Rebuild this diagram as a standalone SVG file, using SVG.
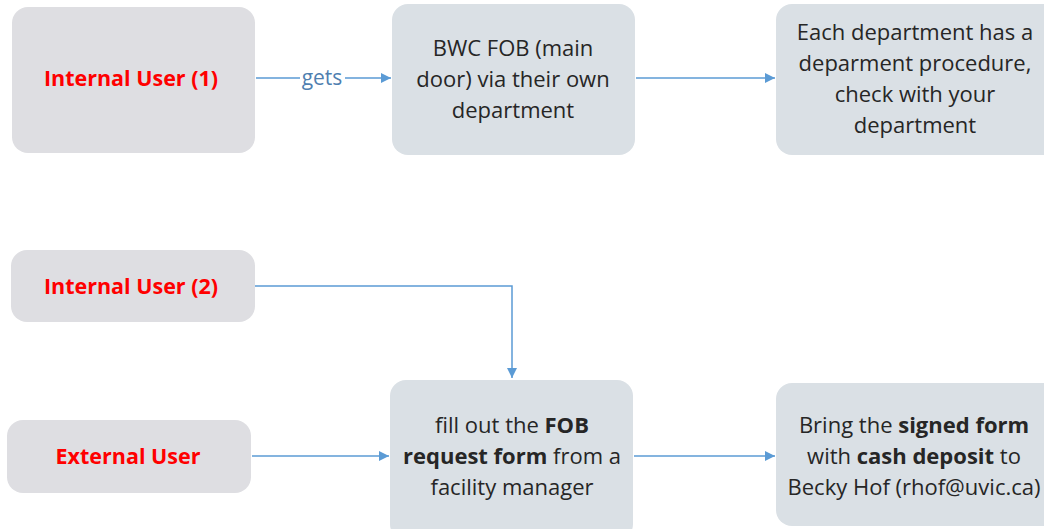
<svg xmlns="http://www.w3.org/2000/svg" width="1044" height="529" viewBox="0 0 1044 529">
<style>
.u{fill:#dedee2}
.p{fill:#dae0e5}
.t{font-family:"Open Sans","Liberation Sans",sans-serif;font-size:22px;fill:#262626;text-anchor:middle}
.r{font-family:"Open Sans","Liberation Sans",sans-serif;font-size:21.5px;font-weight:bold;fill:#ff0000;text-anchor:middle}
.b{font-weight:bold}
.c{fill:none;stroke:#5b9bd5;stroke-width:1.5}
</style>
<defs>
<marker id="ah" viewBox="0 0 10 10" refX="10" refY="5" markerWidth="11" markerHeight="10" markerUnits="userSpaceOnUse" orient="auto">
<path d="M0,0 L10,5 L0,10 z" fill="#5b9bd5"/>
</marker>
</defs>
<rect width="1044" height="529" fill="#ffffff"/>
<g id="connectors">
<path class="c" d="M256,78 H300 M345,78 H391" marker-end="url(#ah)"/>
<text x="322" y="85" font-family="'Open Sans','Liberation Sans',sans-serif" font-size="21" fill="#4f7fb0" text-anchor="middle">gets</text>
<path class="c" d="M636,78 H775" marker-end="url(#ah)"/>
<path class="c" d="M255,286 H512 V378" marker-end="url(#ah)"/>
<path class="c" d="M252,456 H389" marker-end="url(#ah)"/>
<path class="c" d="M634,456 H775" marker-end="url(#ah)"/>
</g>
<g id="internal1">
<rect class="u" x="12" y="7" width="243" height="146" rx="16"/>
<text class="r" x="131" y="86">Internal User (1)</text>
</g>
<g id="bwcfob">
<rect class="p" x="392" y="4" width="243" height="151" rx="16"/>
<text class="t" x="513" y="56">BWC FOB (main</text>
<text class="t" x="513" y="87">door) via their own</text>
<text class="t" x="513" y="118">department</text>
</g>
<g id="department">
<rect class="p" x="776" y="4" width="290" height="151" rx="16"/>
<text class="t" x="915" y="40">Each department has a</text>
<text class="t" x="915" y="71">deparment procedure,</text>
<text class="t" x="915" y="102">check with your</text>
<text class="t" x="915" y="133">department</text>
</g>
<g id="internal2">
<rect class="u" x="11" y="250" width="244" height="72" rx="16"/>
<text class="r" x="131" y="294">Internal User (2)</text>
</g>
<g id="external">
<rect class="u" x="7" y="420" width="244" height="73" rx="16"/>
<text class="r" x="128" y="464">External User</text>
</g>
<g id="fillform">
<rect class="p" x="390" y="380" width="243" height="160" rx="16"/>
<text class="t" x="512" y="433">fill out the <tspan class="b">FOB</tspan></text>
<text class="t" x="512" y="464"><tspan class="b">request form</tspan> from a</text>
<text class="t" x="512" y="495">facility manager</text>
</g>
<g id="bring">
<rect class="p" x="776" y="383" width="290" height="143" rx="16"/>
<text class="t" x="914" y="433">Bring the <tspan class="b">signed form</tspan></text>
<text class="t" x="914" y="464">with <tspan class="b">cash deposit</tspan> to</text>
<text class="t" x="914" y="495">Becky Hof (rhof@uvic.ca)</text>
</g>
</svg>
